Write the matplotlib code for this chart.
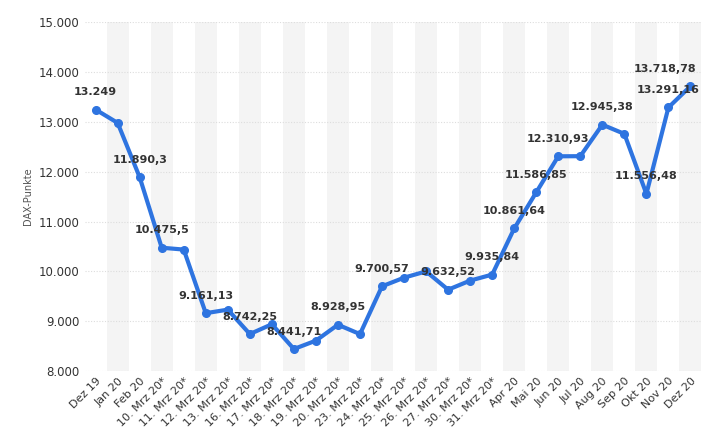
import matplotlib
matplotlib.use("Agg")
import matplotlib.pyplot as plt

categories = ["Dez 19", "Jan 20", "Feb 20", "10. Mrz 20*", "11. Mrz 20*", "12. Mrz 20*",
              "13. Mrz 20*", "16. Mrz 20*", "17. Mrz 20*", "18. Mrz 20*", "19. Mrz 20*",
              "20. Mrz 20*", "23. Mrz 20*", "24. Mrz 20*", "25. Mrz 20*", "26. Mrz 20*",
              "27. Mrz 20*", "30. Mrz 20*", "31. Mrz 20*", "Apr 20", "Mai 20", "Jun 20",
              "Jul 20", "Aug 20", "Sep 20", "Okt 20", "Nov 20", "Dez 20"]
values = [13249, 12981, 11890.3, 10475.5, 10438, 9161.13, 9232, 8742.25, 8939, 8441.71,
          8610, 8928.95, 8741, 9700.57, 9874, 10000, 9632.52, 9815, 9935.84, 10861.64,
          11586.85, 12310.93, 12313, 12945.38, 12761, 11556.48, 13291.16, 13718.78]
labels = {0: "13.249", 2: "11.890,3", 3: "10.475,5", 5: "9.161,13", 7: "8.742,25",
          9: "8.441,71", 11: "8.928,95", 13: "9.700,57", 16: "9.632,52", 18: "9.935,84",
          19: "10.861,64", 20: "11.586,85", 21: "12.310,93", 23: "12.945,38",
          25: "11.556,48", 26: "13.291,16", 27: "13.718,78"}
yticks = [8000, 9000, 10000, 11000, 12000, 13000, 14000, 15000]
ytick_labels = ["8.000", "9.000", "10.000", "11.000", "12.000", "13.000", "14.000", "15.000"]

fig = plt.figure(figsize=(7.05, 4.47), dpi=100)
ax = fig.add_axes([0.12, 0.17, 0.875, 0.78])
x = list(range(len(categories)))
for i in x:
    if i % 2 == 1:
        ax.axvspan(i - 0.5, i + 0.5, color="#f4f4f4", zorder=0, lw=0)
ax.plot(x, values, color="#2e74e0", lw=3, marker="o", ms=5.5, zorder=3)
for i, t in labels.items():
    ha = "right" if i == len(categories) - 1 else "center"
    dx = 4 if ha == "right" else 0
    ax.annotate(t, (i, values[i]), xytext=(dx, 9), textcoords="offset points",
                ha=ha, va="bottom", fontsize=8, fontweight="bold", color="#333333",
                zorder=4)
ax.set_xlim(-0.5, len(categories) - 0.5)
ax.set_ylim(8000, 15000)
ax.set_yticks(yticks)
ax.set_yticklabels(ytick_labels, fontsize=8.5, color="#333333")
ax.set_xticks(x)
ax.set_xticklabels(categories, rotation=45, ha="right", rotation_mode="anchor",
                   fontsize=8, color="#333333")
ax.yaxis.grid(True, color="#dddddd", ls=(0, (1, 1.5)), lw=0.8, zorder=1)
ax.set_axisbelow(True)
for s in ax.spines.values():
    s.set_visible(False)
ax.tick_params(length=0)
ax.set_ylabel("DAX-Punkte", fontsize=7, color="#555555")
fig.savefig("out.png", dpi=100)
